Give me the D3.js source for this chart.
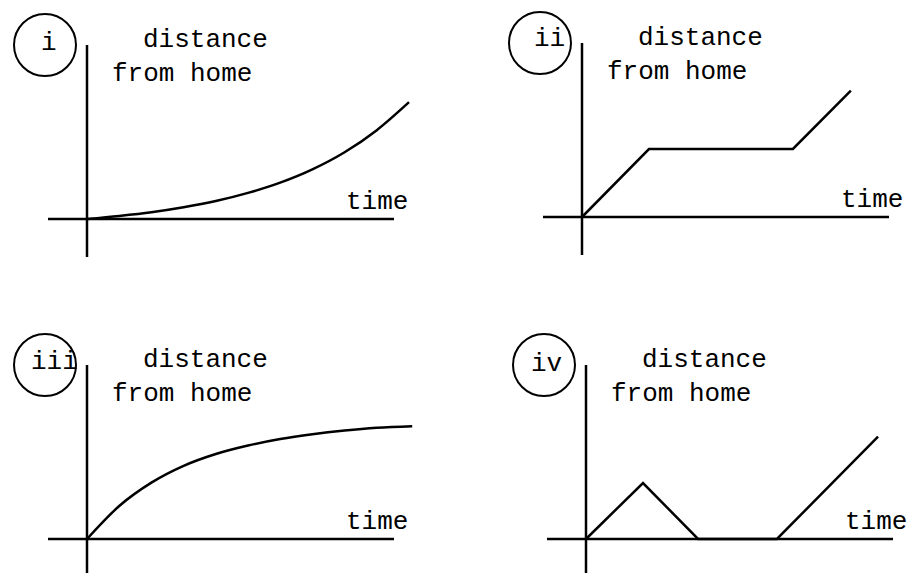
<!DOCTYPE html>
<html>
<head>
<meta charset="utf-8">
<script src="https://cdn.jsdelivr.net/npm/d3@7"></script>
<style>
  html, body { margin: 0; padding: 0; background: #fff; }
  svg text { font-family: "Liberation Mono", "Courier New", monospace; font-size: 26px; fill: #000; }
</style>
</head>
<body>
<div id="chart"></div>
<script>
const W = 909, H = 573;

// panel labels and axis titles
const panelLabels = ["i", "ii", "iii", "iv"];
const yTitle = ["distance", "from home"];
const xTitle = "time";

// distance-time readings for each panel (time 0..10, distance 0..10)
const time1 = [0, 1, 2, 3, 4, 5, 6, 7, 8, 9, 10];
const dist1 = [0, 0.19, 0.42, 0.73, 1.12, 1.63, 2.27, 3.1, 4.17, 5.55, 7.3];

const time2 = [0, 2.08, 6.55, 8.35];
const dist2 = [0, 4.25, 4.25, 7.9];

const time3 = [0, 1, 2, 3, 4, 5, 6, 7, 8, 9, 10.1];
const dist3 = [0, 2.06, 3.52, 4.57, 5.31, 5.84, 6.25, 6.55, 6.78, 6.95, 7.05];

const time4 = [0, 1.77, 3.48, 5.93, 9.07];
const dist4 = [0, 3.5, 0, 0, 6.4];

const series = [
  { t: time1, d: dist1, smooth: true },
  { t: time2, d: dist2, smooth: false },
  { t: time3, d: dist3, smooth: true },
  { t: time4, d: dist4, smooth: false }
];

// layout: origin of each small plot and where its roman numeral sits
const origins = [[87, 219], [582, 217], [87, 539], [586, 539]];
const labelDx = [-46, -48, -56, -55];
const labelDy = [-169, -171, -170, -168];

const svg = d3.select("#chart").append("svg")
  .attr("width", W)
  .attr("height", H)
  .attr("viewBox", `0 0 ${W} ${H}`);

series.forEach((s, i) => {
  const [ox, oy] = origins[i];
  const g = svg.append("g").attr("transform", `translate(${ox},${oy})`);

  const x = d3.scaleLinear().domain([0, 10]).range([0, 322]);
  const y = d3.scaleLinear().domain([0, 10]).range([0, -160]);

  // axes
  g.append("line")
    .attr("x1", -39).attr("x2", 307).attr("y1", 0).attr("y2", 0)
    .attr("stroke", "#000").attr("stroke-width", 2.5);
  g.append("line")
    .attr("x1", 0).attr("x2", 0).attr("y1", -174).attr("y2", 38)
    .attr("stroke", "#000").attr("stroke-width", 2.5);

  // curve
  const line = d3.line()
    .x((d, k) => x(s.t[k]))
    .y(d => y(d))
    .curve(s.smooth ? d3.curveMonotoneX : d3.curveLinear);
  g.append("path")
    .attr("d", line(s.d))
    .attr("fill", "none")
    .attr("stroke", "#000")
    .attr("stroke-width", 2.5)
    .attr("stroke-linejoin", "miter");

  // titles
  g.append("text").attr("x", 56).attr("y", -172).text(yTitle[0]);
  g.append("text").attr("x", 25).attr("y", -138).text(yTitle[1]);
  g.append("text").attr("x", 259).attr("y", -10).text(xTitle);

  // numbered circle
  g.append("circle")
    .attr("cx", -42).attr("cy", -174).attr("r", 31)
    .attr("fill", "none").attr("stroke", "#000").attr("stroke-width", 2);
  g.append("text")
    .attr("x", labelDx[i]).attr("y", labelDy[i])
    .text(panelLabels[i]);
});
</script>
</body>
</html>
